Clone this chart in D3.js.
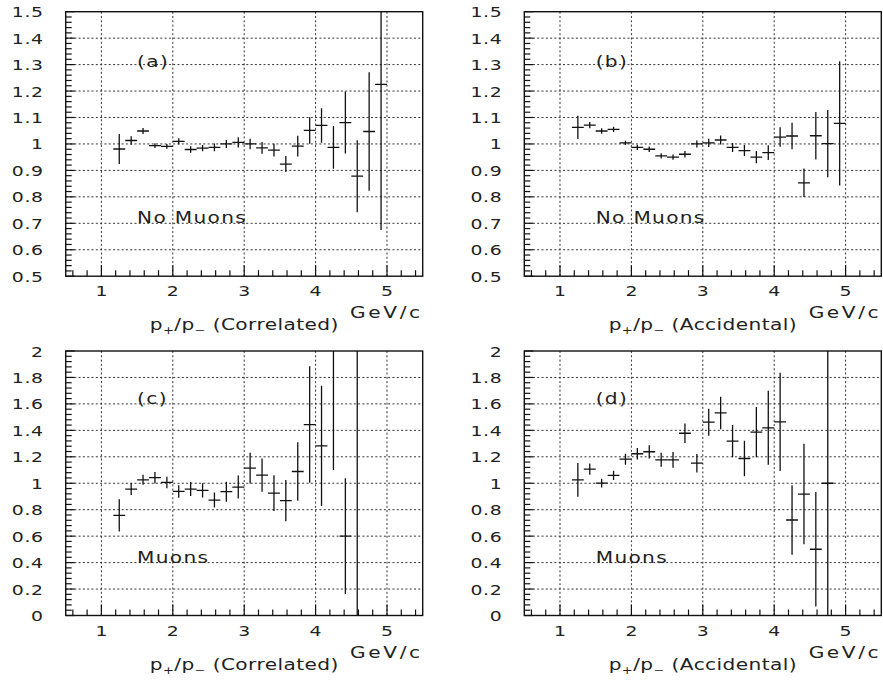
<!DOCTYPE html>
<html>
<head>
<meta charset="utf-8">
<script src="https://cdn.jsdelivr.net/npm/d3@7"></script>
<style>
    body { margin: 0; background: #fff; }
    text { font-family: "DejaVu Sans", sans-serif; fill: #222; }
</style>
</head>
<body>
<div id="chart"></div>
<script>
// bin centres in GeV/c, the same for every panel
var binCenters = [1.25, 1.417, 1.583, 1.75, 1.917, 2.083, 2.25, 2.417, 2.583, 2.75, 2.917,
    3.083, 3.25, 3.417, 3.583, 3.75, 3.917, 4.083, 4.25, 4.417, 4.583, 4.75, 4.917];
var binHalf = 0.083;

// (a) no muons, correlated
var ratioA = [0.981, 1.013, 1.049, 0.994, 0.991, 1.010, 0.979, 0.984, 0.987, 1.000, 1.006,
    1.000, 0.985, 0.977, 0.924, 0.992, 1.051, 1.070, 0.987, 1.081, 0.878, 1.047, 1.225];
var errA = [0.057, 0.016, 0.011, 0.009, 0.009, 0.012, 0.012, 0.012, 0.015, 0.015, 0.019,
    0.020, 0.022, 0.024, 0.030, 0.039, 0.050, 0.065, 0.081, 0.117, 0.136, 0.224, 0.550];

// (b) no muons, accidental
var ratioB = [1.063, 1.071, 1.049, 1.055, 1.004, 0.987, 0.980, 0.955, 0.950, 0.961, 1.000,
    1.004, 1.015, 0.987, 0.975, 0.950, 0.967, 1.026, 1.030, 0.853, 1.031, 1.001, 1.078];
var errB = [0.044, 0.012, 0.010, 0.010, 0.008, 0.010, 0.010, 0.010, 0.010, 0.012, 0.013,
    0.016, 0.017, 0.017, 0.021, 0.023, 0.028, 0.037, 0.050, 0.054, 0.090, 0.127, 0.235];

// (c) muons, correlated
var ratioC = [0.757, 0.956, 1.026, 1.042, 1.006, 0.938, 0.956, 0.946, 0.873, 0.936, 0.971,
    1.114, 1.062, 0.926, 0.868, 1.089, 1.444, 1.283, 2.400, 0.600, 2.400];
var errC = [0.122, 0.045, 0.038, 0.044, 0.043, 0.047, 0.053, 0.054, 0.057, 0.075, 0.087,
    0.116, 0.126, 0.135, 0.156, 0.221, 0.440, 0.455, 1.300, 0.437, 2.600];

// (d) muons, accidental
var ratioD = [1.026, 1.107, 1.001, 1.059, 1.182, 1.223, 1.238, 1.177, 1.177, 1.378, 1.152,
    1.462, 1.532, 1.318, 1.187, 1.386, 1.419, 1.464, 0.722, 0.918, 0.501, 1.000];
var errD = [0.128, 0.042, 0.033, 0.035, 0.042, 0.044, 0.050, 0.053, 0.059, 0.073, 0.070,
    0.102, 0.123, 0.122, 0.135, 0.190, 0.280, 0.371, 0.262, 0.380, 0.433, 1.200];

var xTicks = [1, 2, 3, 4, 5];
var yTicksTop = [0.5, 0.6, 0.7, 0.8, 0.9, 1, 1.1, 1.2, 1.3, 1.4, 1.5];
var yTicksBottom = [0, 0.2, 0.4, 0.6, 0.8, 1, 1.2, 1.4, 1.6, 1.8, 2];

var W = 883, H = 680;
var pw = 357, ph = 264.5;

var svg = d3.select("#chart")
    .append("svg")
    .attr("width", W)
    .attr("height", H)
    .style("background", "#fff");

var panels = [
    {tag: "(a)", note: "No Muons", kind: "Correlated", left: 65.7, top: 11.7,
        vals: ratioA, errs: errA, yDomain: [0.5, 1.5], yTicks: yTicksTop, yMinor: 0.02,
        tagY: 1.29, noteY: 0.7},
    {tag: "(b)", note: "No Muons", kind: "Accidental", left: 524.3, top: 11.7,
        vals: ratioB, errs: errB, yDomain: [0.5, 1.5], yTicks: yTicksTop, yMinor: 0.02,
        tagY: 1.29, noteY: 0.7},
    {tag: "(c)", note: "Muons", kind: "Correlated", left: 65.7, top: 351,
        vals: ratioC, errs: errC, yDomain: [0, 2], yTicks: yTicksBottom, yMinor: 0.04,
        tagY: 1.6, noteY: 0.4},
    {tag: "(d)", note: "Muons", kind: "Accidental", left: 524.3, top: 351,
        vals: ratioD, errs: errD, yDomain: [0, 2], yTicks: yTicksBottom, yMinor: 0.04,
        tagY: 1.6, noteY: 0.4}
];

// the old plotting font is wide, so stretch text sideways around its anchor
var sx = 1.3;
function at(px, py) {
    return "translate(" + px + "," + py + ") scale(" + sx + ",1)";
}

panels.forEach(function(p, i) {
    var g = svg.append("g")
        .attr("transform", "translate(" + p.left + "," + p.top + ")");

    var x = d3.scaleLinear().domain([0.5, 5.5]).range([0, pw]);
    var y = d3.scaleLinear().domain(p.yDomain).range([ph, 0]);

    // dotted grid
    g.append("g").selectAll("line")
        .data(xTicks)
        .join("line")
        .attr("x1", d => x(d)).attr("x2", d => x(d))
        .attr("y1", 0).attr("y2", ph)
        .attr("stroke", "#333").attr("stroke-width", 1)
        .attr("stroke-dasharray", "2,2.3");
    g.append("g").selectAll("line")
        .data(p.yTicks.slice(1, -1))
        .join("line")
        .attr("x1", 0).attr("x2", pw)
        .attr("y1", d => y(d)).attr("y2", d => y(d))
        .attr("stroke", "#333").attr("stroke-width", 1)
        .attr("stroke-dasharray", "2,2.3");

    // ticks along bottom and left edges, pointing inwards
    var xMinor = d3.range(0.6, 5.45, 0.2);
    g.append("g").selectAll("line")
        .data(xMinor)
        .join("line")
        .attr("x1", d => x(d)).attr("x2", d => x(d))
        .attr("y1", ph)
        .attr("y2", d => Math.abs(d - Math.round(d)) < 0.01 ? ph - 11 : ph - 6)
        .attr("stroke", "#111").attr("stroke-width", 1.2);
    var yMinor = d3.range(p.yDomain[0], p.yDomain[1] + p.yMinor / 2, p.yMinor);
    g.append("g").selectAll("line")
        .data(yMinor)
        .join("line")
        .attr("y1", d => y(d)).attr("y2", d => y(d))
        .attr("x1", 0)
        .attr("x2", (d, j) => j % 5 === 0 ? 9 : 6)
        .attr("stroke", "#111").attr("stroke-width", 1.2);

    // frame
    g.append("rect")
        .attr("width", pw).attr("height", ph)
        .attr("fill", "none")
        .attr("stroke", "#111").attr("stroke-width", 1.4);

    // tick labels
    g.append("g").selectAll("text")
        .data(p.yTicks)
        .join("text")
        .attr("transform", d => at(-22, y(d) + 5.5))
        .attr("text-anchor", "end")
        .style("font-size", "14.5px")
        .style("letter-spacing", "0.5px")
        .text(d => d3.format("~g")(d));
    g.append("g").selectAll("text")
        .data(xTicks)
        .join("text")
        .attr("transform", d => at(x(d), ph + 20))
        .attr("text-anchor", "middle")
        .style("font-size", "14.5px")
        .text(d => d);

    // error bar crosses, clipped to the frame
    g.append("clipPath").attr("id", "clip" + i)
        .append("rect").attr("width", pw).attr("height", ph);
    var pts = p.vals.map((v, j) => ({x: binCenters[j], v: v, e: p.errs[j]}));
    var marks = g.append("g").attr("clip-path", "url(#clip" + i + ")");
    marks.selectAll(".ev")
        .data(pts)
        .join("line")
        .attr("class", "ev")
        .attr("x1", d => x(d.x)).attr("x2", d => x(d.x))
        .attr("y1", d => y(d.v - d.e)).attr("y2", d => y(d.v + d.e))
        .attr("stroke", "#111").attr("stroke-width", 1.3);
    marks.selectAll(".eh")
        .data(pts)
        .join("line")
        .attr("class", "eh")
        .attr("x1", d => x(d.x - binHalf)).attr("x2", d => x(d.x + binHalf))
        .attr("y1", d => y(d.v)).attr("y2", d => y(d.v))
        .attr("stroke", "#111").attr("stroke-width", 1.3);

    // panel texts
    g.append("text")
        .attr("transform", at(x(1.5), y(p.tagY)))
        .style("font-size", "15.5px")
        .style("letter-spacing", "1px")
        .text(p.tag);
    g.append("text")
        .attr("transform", at(x(1.5), y(p.noteY)))
        .style("font-size", "15.5px")
        .style("letter-spacing", "1px")
        .text(p.note);

    // axis titles
    g.append("text")
        .attr("transform", at(pw, ph + 42))
        .attr("text-anchor", "end")
        .style("font-size", "15.5px")
        .style("letter-spacing", "2px")
        .text("GeV/c");
    var t = g.append("text")
        .attr("transform", at(pw / 2, ph + 54))
        .attr("text-anchor", "middle")
        .style("font-size", "15.5px")
        .style("letter-spacing", "0.3px");
    t.append("tspan").text("p");
    t.append("tspan").attr("dy", 4).style("font-size", "10px").text("+");
    t.append("tspan").attr("dy", -4).text("/p");
    t.append("tspan").attr("dy", 4).style("font-size", "10px").text("−");
    t.append("tspan").attr("dy", -4).text(" (" + p.kind + ")");
});
</script>
</body>
</html>
